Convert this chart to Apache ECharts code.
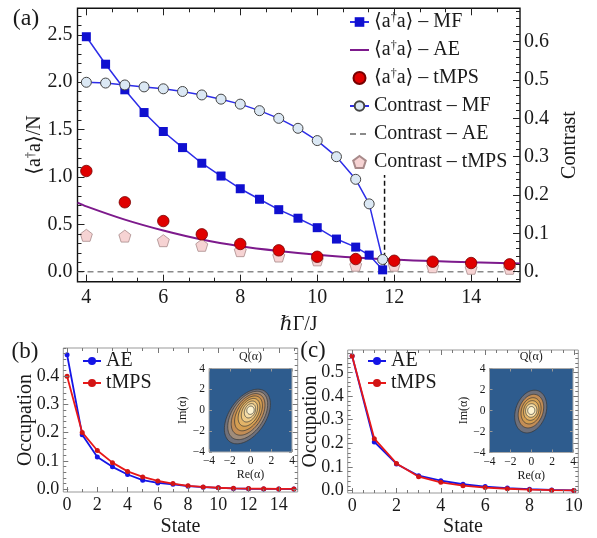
<!DOCTYPE html>
<html><head><meta charset="utf-8">
<script src="https://cdn.jsdelivr.net/npm/echarts@6/dist/echarts.min.js"></script>
<style>html,body{margin:0;padding:0;background:#fff}#c{width:597px;height:538px}</style>
</head><body><div id="c"></div>
<script>
// ---------- Panel (a) data ----------
const mfX = [4,4.5,5,5.5,6,6.5,7,7.5,8,8.5,9,9.5,10,10.5,11,11.35,11.7];
const mfOcc = [2.48,2.19,1.92,1.68,1.48,1.31,1.145,1.01,0.876,0.765,0.655,0.565,0.465,0.345,0.26,0.176,0.02];
const mfContrast = [0.494,0.492,0.487,0.482,0.477,0.470,0.461,0.450,0.437,0.420,0.400,0.374,0.342,0.300,0.241,0.177,0.032];
const aeX = [3.77,4,5,6,7,8,9,10,11,12,13,14,15,15.27];
const aeOcc = [0.73,0.69,0.55,0.435,0.34,0.27,0.22,0.18,0.15,0.128,0.113,0.10,0.09,0.088];
const tmpsX = [4,5,6,7,8,9,10,11,12,13,14,15];
const tmpsOcc = [1.063,0.733,0.535,0.395,0.293,0.226,0.158,0.134,0.116,0.106,0.092,0.078];
const tmpsContrast = [0.095,0.093,0.081,0.069,0.055,0.041,0.031,0.017,0.017,0.013,0.009,0.009];
const aeContrastX = [3.77,15.27];
const aeContrast = [0,0];
const criticalX = [11.75,11.75];
const criticalY = [-0.105,1.02];
const aTicksX = [4,6,8,10,12,14];
const aTicksY = [0,0.5,1,1.5,2,2.5];
const aTicksC = [0,0.1,0.2,0.3,0.4,0.5,0.6];

// ---------- Panel (b) data ----------
const statesB = [0,1,2,3,4,5,6,7,8,9,10,11,12,13,14,15];
const aeB = [0.476,0.193,0.114,0.079,0.052,0.032,0.022,0.0175,0.0105,0.007,0.0047,0.0025,0.0015,0.001,0.0008,0.0005];
const tmpsB = [0.40,0.201,0.137,0.094,0.063,0.0435,0.029,0.02,0.012,0.008,0.005,0.003,0.002,0.0015,0.001,0.001];
const bTicksX = [0,2,4,6,8,10,12,14];
const bTicksY = [0,0.1,0.2,0.3,0.4];

// ---------- Panel (c) data ----------
const statesC = [0,1,2,3,4,5,6,7,8,9,10];
const aeC = [0.57,0.206,0.113,0.063,0.042,0.027,0.017,0.011,0.006,0.003,0.001];
const tmpsC = [0.57,0.22,0.115,0.059,0.035,0.021,0.013,0.008,0.004,0.002,0.001];
const cTicksX = [0,2,4,6,8,10];
const cTicksY = [0,0.1,0.2,0.3,0.4,0.5];

// ---------- Insets: Q(alpha) contour levels (ellipses, outer -> inner) ----------
const qTicks = [-4,-2,0,2,4];
const qbCx = [-0.3,-0.27,-0.23,-0.19,-0.14,-0.1,-0.05,0];
const qbCy = [-0.6,-0.5,-0.4,-0.3,-0.2,-0.12,-0.05,0];
const qbA = [2.95,2.6,2.22,1.85,1.45,1.08,0.72,0.4];
const qbB = [1.75,1.52,1.3,1.08,0.88,0.68,0.5,0.35];
const qbAngle = [55,56,57,58,60,62,65,70];
const qbLevel = [0,1,2,3,4,5,6,7];
const qcCx = [-0.05,-0.03,-0.02,0,0,0];
const qcCy = [-0.1,-0.06,-0.03,0,0,0];
const qcA = [2.1,1.65,1.28,0.95,0.65,0.38];
const qcB = [1.45,1.15,0.92,0.72,0.54,0.34];
const qcAngle = [70,70,72,75,80,80];
const qcLevel = [0,2,3,4,6,7];

// ---------- styling ----------
const FONT = "'Liberation Serif','DejaVu Serif',serif";
const INK = '#1a1a1a';
const qPalette = ['#6f707a','#a08c7a','#c38d55','#d49e52','#e3b468','#eeca86','#f6dea8','#fdf3d0'];
const SUP = {s: {fontFamily: FONT, fontSize: 12, verticalAlign: 'top', color: INK}};

function minor(min, max, anchor, step, majors) {
  const out = [];
  const k0 = Math.ceil((min - anchor) / step - 1e-9);
  for (let k = k0; anchor + k * step <= max + 1e-9; k++) {
    const v = +(anchor + k * step).toFixed(5);
    if (!majors.some(m => Math.abs(m - v) < 1e-6)) out.push(v);
  }
  return out;
}

const xAxes = [], yAxes = [];
function mk(list, o) {
  list.push({
    type: 'value', gridIndex: o.grid, position: o.pos, min: o.min, max: o.max,
    name: o.name || '', nameLocation: 'middle', nameGap: o.nameGap || 0, nameRotate: o.nameRotate,
    nameMoveOverlap: false,
    nameTextStyle: {fontFamily: FONT, fontSize: o.nameSize || 20, color: INK, rich: SUP},
    axisLine: {show: false, onZero: false}, splitLine: {show: false},
    axisTick: {show: !!o.ticks, inside: true, length: o.tickLen || 6, customValues: o.ticks,
      lineStyle: {color: o.tickColor || '#222', width: 1}},
    axisLabel: {show: !!o.labels, customValues: o.labels, margin: o.margin || 5,
      fontFamily: FONT, fontSize: o.fontSize || 20, color: INK, formatter: o.fmt},
    z: 5
  });
  return list.length - 1;
}
const fmt1 = v => v.toFixed(1);
const fmtInt = v => v < 0 ? '\u2212' + (-v) : String(v);

// (a)
const aX = mk(xAxes, {grid:0,pos:'bottom',min:3.77,max:15.27,labels:aTicksX,ticks:aTicksX,tickLen:7,fontSize:20,margin:6,name:'\u210FΓ/J',nameGap:33});
mk(xAxes, {grid:0,pos:'bottom',min:3.77,max:15.27,ticks:minor(3.77,15.27,4,2/3,aTicksX),tickLen:4});
mk(xAxes, {grid:0,pos:'top',min:3.77,max:15.27,ticks:aTicksX,tickLen:7});
mk(xAxes, {grid:0,pos:'top',min:3.77,max:15.27,ticks:minor(3.77,15.27,4,2/3,aTicksX),tickLen:4});
const aYL = mk(yAxes, {grid:0,pos:'left',min:-0.105,max:2.78,labels:aTicksY,ticks:aTicksY,tickLen:7,fmt:fmt1,margin:5,name:'⟨a{s|†}a⟩/N',nameGap:33,nameRotate:90});
mk(yAxes, {grid:0,pos:'left',min:-0.105,max:2.78,ticks:minor(-0.105,2.78,0,0.1,aTicksY),tickLen:4});
const aYR = mk(yAxes, {grid:0,pos:'right',min:-0.02595,max:0.6869,labels:aTicksC,ticks:aTicksC,tickLen:7,fmt:v=>v===0?'0.':v.toFixed(1),margin:4,name:'Contrast',nameGap:40,nameRotate:90});
mk(yAxes, {grid:0,pos:'right',min:-0.02595,max:0.6869,ticks:minor(-0.02595,0.6869,0,0.02,aTicksC),tickLen:4});

// (b)
const bX = mk(xAxes, {grid:1,pos:'bottom',min:-0.25,max:15.25,labels:bTicksX,ticks:bTicksX,tickLen:5,fontSize:18,margin:4,name:'State',nameGap:25,tickColor:'#777'});
mk(xAxes, {grid:1,pos:'bottom',min:-0.25,max:15.25,ticks:minor(-0.25,15.25,0,1,bTicksX),tickLen:3,tickColor:'#777'});
mk(xAxes, {grid:1,pos:'top',min:-0.25,max:15.25,ticks:bTicksX,tickLen:5,tickColor:'#777'});
mk(xAxes, {grid:1,pos:'top',min:-0.25,max:15.25,ticks:minor(-0.25,15.25,0,1,bTicksX),tickLen:3,tickColor:'#777'});
const bY = mk(yAxes, {grid:1,pos:'left',min:-0.01,max:0.5,labels:bTicksY,ticks:bTicksY,tickLen:5,fontSize:18,margin:4,fmt:fmt1,name:'Occupation',nameGap:28,nameRotate:90,tickColor:'#777'});
mk(yAxes, {grid:1,pos:'left',min:-0.01,max:0.5,ticks:minor(-0.01,0.5,0,0.02,bTicksY),tickLen:3,tickColor:'#777'});
mk(yAxes, {grid:1,pos:'right',min:-0.01,max:0.5,ticks:bTicksY,tickLen:5,tickColor:'#777'});
mk(yAxes, {grid:1,pos:'right',min:-0.01,max:0.5,ticks:minor(-0.01,0.5,0,0.02,bTicksY),tickLen:3,tickColor:'#777'});

// (c)
const cX = mk(xAxes, {grid:2,pos:'bottom',min:-0.2,max:10.2,labels:cTicksX,ticks:cTicksX,tickLen:5,fontSize:18,margin:4,name:'State',nameGap:24,tickColor:'#777'});
mk(xAxes, {grid:2,pos:'bottom',min:-0.2,max:10.2,ticks:minor(-0.2,10.2,0,0.5,cTicksX),tickLen:3,tickColor:'#777'});
mk(xAxes, {grid:2,pos:'top',min:-0.2,max:10.2,ticks:cTicksX,tickLen:5,tickColor:'#777'});
mk(xAxes, {grid:2,pos:'top',min:-0.2,max:10.2,ticks:minor(-0.2,10.2,0,0.5,cTicksX),tickLen:3,tickColor:'#777'});
const cY = mk(yAxes, {grid:2,pos:'left',min:-0.01,max:0.595,labels:cTicksY,ticks:cTicksY,tickLen:5,fontSize:18,margin:4,fmt:fmt1,name:'Occupation',nameGap:27,nameRotate:90,tickColor:'#777'});
mk(yAxes, {grid:2,pos:'left',min:-0.01,max:0.595,ticks:minor(-0.01,0.595,0,0.02,cTicksY),tickLen:3,tickColor:'#777'});
mk(yAxes, {grid:2,pos:'right',min:-0.01,max:0.595,ticks:cTicksY,tickLen:5,tickColor:'#777'});
mk(yAxes, {grid:2,pos:'right',min:-0.01,max:0.595,ticks:minor(-0.01,0.595,0,0.02,cTicksY),tickLen:3,tickColor:'#777'});

// insets
const ibX = mk(xAxes, {grid:3,pos:'bottom',min:-4,max:4,labels:qTicks,ticks:qTicks,tickLen:3,fontSize:11.5,margin:3,fmt:fmtInt,name:'Re(α)',nameGap:17,nameSize:12,tickColor:'#999'});
mk(xAxes, {grid:3,pos:'top',min:-4,max:4,ticks:qTicks,tickLen:3,name:'Q(α)',nameGap:6,nameSize:12,tickColor:'#999'});
const ibY = mk(yAxes, {grid:3,pos:'left',min:-4,max:4,labels:qTicks,ticks:qTicks,tickLen:3,fontSize:11.5,margin:4,fmt:fmtInt,name:'Im(α)',nameGap:20,nameSize:12,nameRotate:90,tickColor:'#999'});
mk(yAxes, {grid:3,pos:'right',min:-4,max:4,ticks:qTicks,tickLen:3,tickColor:'#999'});
const icX = mk(xAxes, {grid:4,pos:'bottom',min:-4,max:4,labels:qTicks,ticks:qTicks,tickLen:3,fontSize:11.5,margin:3,fmt:fmtInt,name:'Re(α)',nameGap:17,nameSize:12,tickColor:'#999'});
mk(xAxes, {grid:4,pos:'top',min:-4,max:4,ticks:qTicks,tickLen:3,name:'Q(α)',nameGap:6,nameSize:12,tickColor:'#999'});
const icY = mk(yAxes, {grid:4,pos:'left',min:-4,max:4,labels:qTicks,ticks:qTicks,tickLen:3,fontSize:11.5,margin:4,fmt:fmtInt,name:'Im(α)',nameGap:20,nameSize:12,nameRotate:90,tickColor:'#999'});
mk(yAxes, {grid:4,pos:'right',min:-4,max:4,ticks:qTicks,tickLen:3,tickColor:'#999'});

function pairs(xs, ys) { return xs.map((x, i) => [x, ys[i]]); }

function ellipseRender(params, api) {
  const cx = api.value(0), cy = api.value(1), a = api.value(2), b = api.value(3);
  const ang = api.value(4) * Math.PI / 180, lvl = api.value(5);
  const pts = [];
  for (let k = 0; k < 90; k++) {
    const t = k / 90 * 2 * Math.PI;
    const ex = a * Math.cos(t), ey = b * Math.sin(t);
    pts.push(api.coord([cx + ex * Math.cos(ang) - ey * Math.sin(ang), cy + ex * Math.sin(ang) + ey * Math.cos(ang)]));
  }
  return {type: 'polygon', shape: {points: pts}, style: {fill: qPalette[lvl], stroke: '#333', lineWidth: 0.7}};
}
function contourData(cx, cy, a, b, ang, lv) { return cx.map((x, i) => [x, cy[i], a[i], b[i], ang[i], lv[i]]); }

const N1 = '⟨a†a⟩ – MF', N2 = '⟨a†a⟩ – AE', N3 = '⟨a†a⟩ – tMPS';
const N4 = 'Contrast – MF', N5 = 'Contrast – AE', N6 = 'Contrast – tMPS';
const pentagon = 'path://M50,0 L97.55,34.55 L79.39,90.45 L20.61,90.45 L2.45,34.55 Z';
const NOSYM = 'rgba(0,0,0,0)';

const option = {
  animation: false,
  backgroundColor: '#fff',
  grid: [
    {left: 77.5, top: 8.3, width: 442.5, height: 273.4, show: true, borderColor: '#111', borderWidth: 1.4, backgroundColor: 'transparent'},
    {left: 63.3, top: 348, width: 234.4, height: 145.5, show: true, borderColor: '#999', borderWidth: 1, backgroundColor: 'transparent'},
    {left: 347.7, top: 350, width: 230.6, height: 144, show: true, borderColor: '#999', borderWidth: 1, backgroundColor: 'transparent'},
    {left: 209, top: 368.5, width: 83, height: 83.5, show: true, borderColor: '#aaa', borderWidth: 1, backgroundColor: '#2e5c8e'},
    {left: 489.5, top: 368.5, width: 83.5, height: 84, show: true, borderColor: '#aaa', borderWidth: 1, backgroundColor: '#2e5c8e'}
  ],
  xAxis: xAxes,
  yAxis: yAxes,
  legend: [
    {data: [N1, {name: N2, itemStyle: {color: NOSYM, borderWidth: 0}}, N3, N4, {name: N5, itemStyle: {color: NOSYM, borderWidth: 0}}, N6],
     orient: 'vertical', left: 349, top: 12, padding: 0,
     itemWidth: 19, itemHeight: 12, itemGap: 8, selectedMode: false,
     formatter: n => n.replace('†', '{s|†}'),
     textStyle: {fontFamily: FONT, fontSize: 20, lineHeight: 20, color: INK, rich: SUP}},
    {data: ['AE', 'tMPS'], orient: 'vertical', left: 82, top: 351, padding: 0,
     itemWidth: 18, itemHeight: 10, itemGap: 2, selectedMode: false,
     textStyle: {fontFamily: FONT, fontSize: 20, lineHeight: 20, color: INK}},
    {data: ['AE', 'tMPS'], orient: 'vertical', left: 367, top: 351, padding: 0,
     itemWidth: 18, itemHeight: 10, itemGap: 2, selectedMode: false,
     textStyle: {fontFamily: FONT, fontSize: 20, lineHeight: 20, color: INK}}
  ],
  graphic: [
    {type: 'text', x: 26, y: 19, style: {text: '(a)', fontFamily: FONT, fontSize: 24, fill: INK, align: 'center', verticalAlign: 'middle'}},
    {type: 'text', x: 25, y: 352, style: {text: '(b)', fontFamily: FONT, fontSize: 23, fill: INK, align: 'center', verticalAlign: 'middle'}},
    {type: 'text', x: 313, y: 351, style: {text: '(c)', fontFamily: FONT, fontSize: 23, fill: INK, align: 'center', verticalAlign: 'middle'}}
  ],
  series: [
    {name: N5, type: 'line', xAxisIndex: aX, yAxisIndex: aYR, data: pairs(aeContrastX, aeContrast), symbol: 'none',
     lineStyle: {color: '#8a8a8a', width: 1.3, type: [6, 4]}, itemStyle: {color: NOSYM}, z: 1},
    {name: 'critical', type: 'line', xAxisIndex: aX, yAxisIndex: aYL, data: pairs(criticalX, criticalY), symbol: 'none',
     lineStyle: {color: '#111', width: 1.5, type: [5, 3]}, z: 1},
    {name: N2, type: 'line', xAxisIndex: aX, yAxisIndex: aYL, data: pairs(aeX, aeOcc), symbol: 'none', smooth: 0.3,
     lineStyle: {color: '#7d1a8c', width: 2}, itemStyle: {color: NOSYM}, z: 2},
    {name: N6, type: 'scatter', xAxisIndex: aX, yAxisIndex: aYR, data: pairs(tmpsX, tmpsContrast), symbol: pentagon, symbolSize: 12,
     itemStyle: {color: '#f6d3d3', borderColor: '#a88a8a', borderWidth: 0.8, opacity: 1}, z: 3},
    {name: N3, type: 'scatter', xAxisIndex: aX, yAxisIndex: aYL, data: pairs(tmpsX, tmpsOcc), symbol: 'circle', symbolSize: 11.5,
     itemStyle: {color: '#e00000', borderColor: '#700', borderWidth: 0.8, opacity: 1}, z: 4},
    {name: N1, type: 'line', xAxisIndex: aX, yAxisIndex: aYL, data: pairs(mfX, mfOcc), symbol: 'rect', symbolSize: 9,
     showSymbol: true, showAllSymbol: true, lineStyle: {color: '#2d2de8', width: 1.5}, itemStyle: {color: '#1010d0'}, z: 5},
    {name: N4, type: 'line', xAxisIndex: aX, yAxisIndex: aYR, data: pairs(mfX, mfContrast), symbol: 'circle', symbolSize: 10,
     showSymbol: true, showAllSymbol: true, lineStyle: {color: '#2d2de8', width: 1.5},
     itemStyle: {color: '#dbe8f4', borderColor: '#444', borderWidth: 1}, z: 5},
    // (b)
    {name: 'AE', type: 'line', xAxisIndex: bX, yAxisIndex: bY, data: pairs(statesB, aeB), symbol: 'circle', symbolSize: 5,
     showAllSymbol: true, lineStyle: {color: '#1515e6', width: 1.8}, itemStyle: {color: '#1515e6'}, z: 3},
    {name: 'tMPS', type: 'line', xAxisIndex: bX, yAxisIndex: bY, data: pairs(statesB, tmpsB), symbol: 'circle', symbolSize: 5,
     showAllSymbol: true, lineStyle: {color: '#e81818', width: 1.8}, itemStyle: {color: '#d21515'}, z: 4},
    // (c)
    {name: 'AE', type: 'line', xAxisIndex: cX, yAxisIndex: cY, data: pairs(statesC, aeC), symbol: 'circle', symbolSize: 5,
     showAllSymbol: true, lineStyle: {color: '#1515e6', width: 1.8}, itemStyle: {color: '#1515e6'}, z: 3},
    {name: 'tMPS', type: 'line', xAxisIndex: cX, yAxisIndex: cY, data: pairs(statesC, tmpsC), symbol: 'circle', symbolSize: 5,
     showAllSymbol: true, lineStyle: {color: '#e81818', width: 1.8}, itemStyle: {color: '#d21515'}, z: 4},
    // insets
    {type: 'custom', xAxisIndex: ibX, yAxisIndex: ibY, renderItem: ellipseRender, clip: true,
     data: contourData(qbCx, qbCy, qbA, qbB, qbAngle, qbLevel), encode: {x: 0, y: 1}, silent: true},
    {type: 'custom', xAxisIndex: icX, yAxisIndex: icY, renderItem: ellipseRender, clip: true,
     data: contourData(qcCx, qcCy, qcA, qcB, qcAngle, qcLevel), encode: {x: 0, y: 1}, silent: true}
  ]
};
const chart = echarts.init(document.getElementById('c'), null, {renderer: 'canvas', width: 597, height: 538});
chart.setOption(option);
</script></body></html>
